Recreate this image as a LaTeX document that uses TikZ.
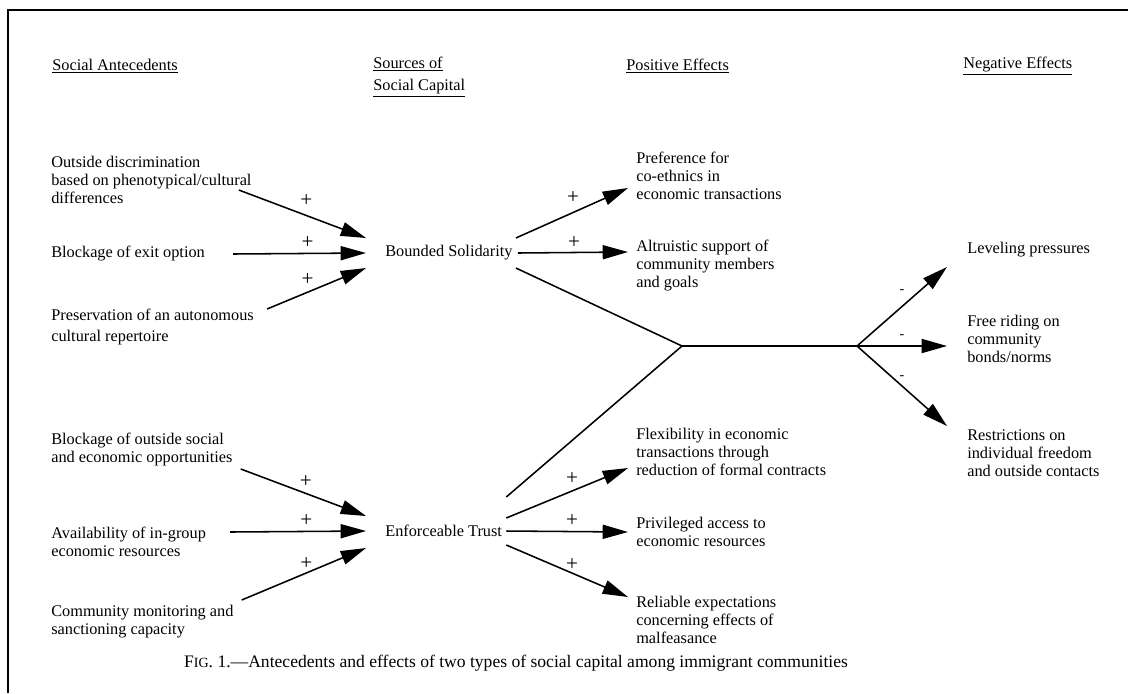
\documentclass[tikz,border=0pt]{standalone}
\usepackage{fontspec}
\setmainfont{Liberation Serif}
\usetikzlibrary{arrows.meta,calc}

\tikzset{
  txt/.style={anchor=west, align=left, inner sep=0pt, font=\fontsize{11.6}{12.8}\selectfont},
  hdr/.style={txt},
  arr/.style={line width=1.1pt, -{Triangle[length=18pt,width=10pt]}},
  ln/.style={line width=1.1pt},
  plus/.style={font=\fontsize{15}{15}\selectfont, inner sep=0pt},
  minus/.style={font=\fontsize{10}{10}\selectfont, inner sep=0pt},
}

\begin{document}
\begin{tikzpicture}[x=0.025cm, y=-0.025cm]
  \useasboundingbox (0,0) rectangle (1128,693);
  \draw[line width=2pt] (8,693) -- (8,10) -- (1128,10);

  % column heads
  \node[hdr] (hant) at (52,66) {\underline{Social Antecedents}};
  \node[hdr] (hsrc) at (373,77) {\underline{Sources of}\\[3pt]\underline{Social Capital}};
  \node[hdr] (hpos) at (626,66) {\underline{Positive Effects}};
  \node[hdr] (hneg) at (963,66) {\underline{Negative Effects}};

  % antecedents
  \node[txt] (a1) at (51,180) {Outside discrimination\\based on phenotypical/cultural\\differences};
  \node[txt] (a2) at (51,254) {Blockage of exit option};
  \node[txt] (a3) at (51,327) {Preservation of an autonomous\\[2pt]cultural repertoire};
  \node[txt] (a4) at (51,449) {Blockage of outside social\\and economic opportunities};
  \node[txt] (a5) at (51,542) {Availability of in-group\\economic resources};
  \node[txt] (a6) at (51,622) {Community monitoring and\\sanctioning capacity};

  % sources
  \node[txt] (bs) at (385,253) {Bounded Solidarity};
  \node[txt] (et) at (385,531) {Enforceable Trust};

  % positive effects
  \node[txt] (p1) at (636,176) {Preference for\\co-ethnics in\\economic transactions};
  \node[txt] (p2) at (636,266) {Altruistic support of\\community members\\and goals};
  \node[txt] (p3) at (636,452) {Flexibility in economic\\transactions through\\reduction of formal contracts};
  \node[txt] (p4) at (636,532) {Privileged access to\\economic resources};
  \node[txt] (p5) at (636,620) {Reliable expectations\\concerning effects of\\malfeasance};

  % negative effects
  \node[txt] (n1) at (967,250) {Leveling pressures};
  \node[txt] (n2) at (967,339) {Free riding on\\community\\bonds/norms};
  \node[txt] (n3) at (967,453) {Restrictions on\\individual freedom\\and outside contacts};

  \coordinate (j1) at (682,346);
  \coordinate (j2) at (857,346);

  % into bounded solidarity
  \draw[arr] ($(a1.east)+(-13,10)$) -- node[plus,pos=.53,above=6pt]{+} ($(bs.west)+(-19,-15)$);
  \draw[arr] ($(a2.east)+(28,0)$) -- node[plus,pos=.56,above=3pt]{+} ($(bs.west)+(-19,0)$);
  \draw[arr] ($(a3.east)+(13,-18)$) -- node[plus,pos=.41,above=4.5pt]{+} ($(bs.west)+(-19,15)$);

  % into enforceable trust
  \draw[arr] ($(a4.east)+(8,20)$) -- node[plus,pos=.52,above=4pt]{+} ($(et.west)+(-19,-15)$);
  \draw[arr] ($(a5.east)+(24,-10)$) -- node[plus,pos=.56,above=3pt]{+} ($(et.west)+(-19,0)$);
  \draw[arr] ($(a6.east)+(8,-22)$) -- node[plus,pos=.52,above=2pt]{+} ($(et.west)+(-19,17)$);

  % positive effects
  \draw[arr] ($(bs.east)+(3,-15)$) -- node[plus,pos=.51,above=6pt]{+} ($(p1.west)+(-8,12)$);
  \draw[arr] ($(bs.east)+(5,0)$) -- node[plus,pos=.51,above=2.5pt]{+} ($(p2.west)+(-8,-14)$);
  \draw[arr] ($(et.east)+(4,-13)$) -- node[plus,pos=.54,above=4pt]{+} ($(p3.west)+(-8,16)$);
  \draw[arr] ($(et.east)+(4,0)$) -- node[plus,pos=.54,above=3pt]{+} ($(p4.west)+(-8,0)$);
  \draw[arr] ($(et.east)+(4,14)$) -- node[plus,pos=.54,above=1pt]{+} ($(p5.west)+(-8,-23)$);

  % negative effects
  \draw[ln] ($(bs.east)+(3,15)$) -- (j1) -- ($(et.east)+(4,-34)$);
  \draw[ln] (j1) -- (j2);
  \draw[arr] (j2) -- node[minus,pos=.5,above=9pt]{-} ($(n1.west)+(-20,17)$);
  \draw[arr] (j2) -- node[minus,pos=.5,above=5pt]{-} ($(n2.west)+(-20,7)$);
  \draw[arr] (j2) -- node[minus,pos=.5,above=4pt]{-} ($(n3.west)+(-20,-27)$);

  \node[font=\fontsize{12.5}{12.5}\selectfont] (cap) at (516,663)
    {F{\fontsize{10}{10}\selectfont IG}. 1.---Antecedents and effects of two types of social capital among immigrant communities};
\end{tikzpicture}
\end{document}
